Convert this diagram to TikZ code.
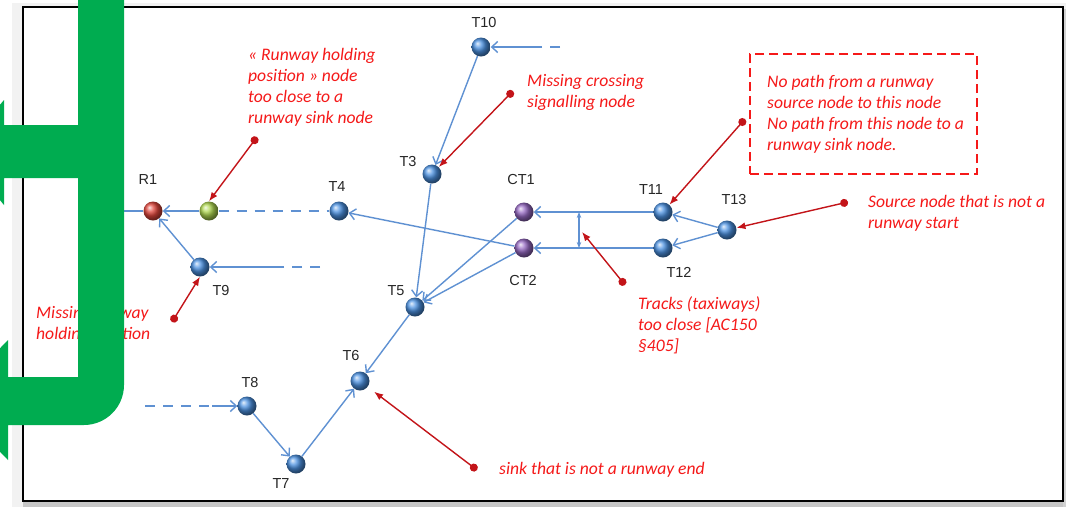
\documentclass[tikz,border=0pt]{standalone}
\usepackage{fontspec}
\newfontfamily\notefont{Carlito}
\newfontfamily\labelfont{Liberation Sans}
\usetikzlibrary{arrows.meta}
\definecolor{track}{RGB}{95,145,210}
\definecolor{ballblue}{RGB}{75,145,225}
\definecolor{ballred}{RGB}{225,70,60}
\definecolor{ballgreen}{RGB}{175,215,80}
\definecolor{ballpurple}{RGB}{150,105,195}
\definecolor{noteline}{RGB}{195,20,25}
\definecolor{notetext}{RGB}{245,25,25}
\definecolor{bracket}{RGB}{0,172,80}
\begin{document}
\begin{tikzpicture}[x=1pt,y=-1pt,
  ball/.style={circle,inner sep=0pt,minimum size=19pt,shading=ball,ball color=#1},
  lbl/.style={font=\labelfont\fontsize{14.5}{17}\selectfont,text=black!85,inner sep=0pt},
  notetxt/.style={font=\notefont\itshape\fontsize{17.6}{21}\selectfont,text=notetext,
    align=left,anchor=base west,inner sep=0pt},
  trkplain/.style={draw=track,line width=1.4pt},
  trk/.style={trkplain,-{Straight Barb[length=6pt,width=11pt]}},
  dsh/.style={dash pattern=on 10pt off 8pt},
  gapline/.style={draw=track,line width=1.2pt,{Stealth[length=6pt,width=4.5pt]}-{Stealth[length=6pt,width=4.5pt]}},
  note/.style={draw=noteline,line width=1.4pt,{Circle[length=8pt]}-{Latex[length=9pt,width=7pt]}},
  notebox/.style={draw=notetext,line width=2.2pt,dash pattern=on 9pt off 5pt,inner sep=0pt}]
\clip (0,0) rectangle (1066,507);
% sheet with its soft shadow
\fill[gray!10] (12,3) rectangle (1066,507);
\fill[gray!45] (23,502) rectangle (1066,507);
\fill[gray!35] (1063,9) rectangle (1066,507);
\fill[white] (23,7) rectangle (1063,501);
\draw[black,line width=2pt] (23,7) rectangle (1063,501);

% network nodes
\node[ball=ballred] (R1) at (153,211) {};
\node[ball=ballgreen] (H1) at (209,211) {};
\node[ball=ballblue] (T4) at (339,211) {};
\node[ball=ballblue] (T9) at (200,267) {};
\node[ball=ballblue] (T10) at (481,47) {};
\node[ball=ballblue] (T3) at (432,174) {};
\node[ball=ballpurple] (CT1) at (524,212) {};
\node[ball=ballpurple] (CT2) at (524,248) {};
\node[ball=ballblue] (T11) at (663,212) {};
\node[ball=ballblue] (T12) at (663,248) {};
\node[ball=ballblue] (T13) at (727,230) {};
\node[ball=ballblue] (T5) at (415,307) {};
\node[ball=ballblue] (T6) at (360,381) {};
\node[ball=ballblue] (T8) at (247,406) {};
\node[ball=ballblue] (T7) at (296,464) {};

% node names
\node[lbl] (lR1) at (148,180) {R1};
\node[lbl] (lT4) at (337,187) {T4};
\node[lbl] (lT9) at (221,291) {T9};
\node[lbl] (lT10) at (484,23) {T10};
\node[lbl] (lT3) at (408,162) {T3};
\node[lbl] (lCT1) at (521,180) {CT1};
\node[lbl] (lCT2) at (523,281) {CT2};
\node[lbl] (lT11) at (651,190) {T11};
\node[lbl] (lT13) at (734,200) {T13};
\node[lbl] (lT12) at (679,272) {T12};
\node[lbl] (lT5) at (396,291) {T5};
\node[lbl] (lT6) at (351,356) {T6};
\node[lbl] (lT8) at (250,383) {T8};
\node[lbl] (lT7) at (281,484) {T7};

% open ends of the tracks
\coordinate (w1) at (100,211);
\coordinate (e9) at (320,267);
\coordinate (s9) at (282,267);
\coordinate (e10) at (560,47);
\coordinate (s10) at (532,47);
\coordinate (e8) at (145,406);
\coordinate (s8) at (212,406);

% taxiway tracks
\draw[trkplain] (R1) -- (w1);
\draw[trk] (H1) -- (R1);
\draw[trkplain,dsh] (H1) -- (T4);
\draw[trk] (T9) -- (R1);
\draw[trkplain,dsh] (e9) -- (s9);
\draw[trk] (s9) -- (T9);
\draw[trk] (CT2) -- (T4);
\draw[trkplain,dsh] (e10) -- (s10);
\draw[trk] (s10) -- (T10);
\draw[trk] (T10) -- (T3);
\draw[trk] (T3) -- (T5);
\draw[trk] (CT1) -- (T5);
\draw[trk] (CT2) -- (T5);
\draw[trk] (T11) -- (CT1);
\draw[trk] (T12) -- (CT2);
\draw[trk] (T13) -- (T11);
\draw[trk] (T13) -- (T12);
\draw[trk] (T5) -- (T6);
\draw[trkplain,dsh] (e8) -- (s8);
\draw[trk] (s8) -- (T8);
\draw[trk] (T8) -- (T7);
\draw[trk] (T7) -- (T6);

% spacing between the parallel tracks
\coordinate (g1) at (579,212);
\coordinate (g2) at (579,248);
\draw[gapline] (g1) -- (g2);

% annotations (base anchor sits on the last line)
\node[notetxt] (m1) at (248,123) {« Runway holding\\position » node\\too close to a\\runway sink node};
\node[notetxt] (m2) at (527,107) {Missing crossing\\signalling node};
\node[notebox,minimum width=227pt,minimum height=120pt] (box) at (863.5,114) {};
\node[notetxt] (m3) at (767,150) {No path from a runway\\source node to this node\\No path from this node to a\\runway sink node.};
\node[notetxt] (m4) at (868,228) {Source node that is not a\\runway start};
\node[notetxt] (m5) at (638,351) {Tracks (taxiways)\\too close [AC150\\§405]};
\node[notetxt] (m6) at (36,339) {Missing runway\\holding position};
\node[notetxt] (m7) at (499,474) {sink that is not a runway end};

\coordinate (n1) at (257,137);
\coordinate (n2) at (172,322);
\coordinate (n3) at (513,91);
\coordinate (n4) at (745,119);
\coordinate (n5) at (848,202);
\coordinate (n6) at (625,285);
\coordinate (g0) at (582,232);
\coordinate (n7) at (477,470);
\draw[note] (n1) -- (H1.north);
\draw[note] (n2) -- (T9.south);
\draw[note] (n3) -- (T3);
\draw[note] (n4) -- (T11);
\draw[note] (n5) -- (T13);
\draw[note] (n6) -- (g0);
\draw[note,shorten >=8pt] (n7) -- (T6);

% green bracket arrow over the left edge
\fill[bracket] (78,-5) -- (124,-5) -- (124,385)
  .. controls (124,407) and (106,425) .. (84,425)
  -- (8,425) -- (8,460) -- (-50,400) -- (8,340) -- (8,377)
  -- (78,377) -- (78,178) -- (4,178) -- (4,205) -- (-40,152)
  -- (4,100) -- (4,125) -- (78,125) -- cycle;
\end{tikzpicture}
\end{document}
